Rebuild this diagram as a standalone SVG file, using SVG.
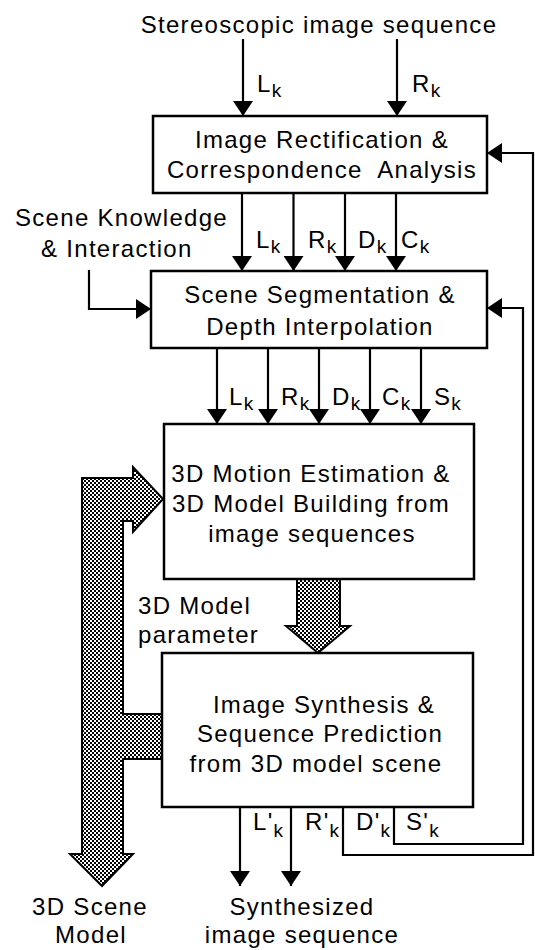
<svg xmlns="http://www.w3.org/2000/svg" width="535" height="950" viewBox="0 0 535 950">
<style>
text{font-family:"Liberation Sans",Arial,Helvetica,sans-serif;font-size:24px;letter-spacing:1.3px;fill:#000}
.c{text-anchor:middle}
.box{fill:#fff;stroke:#000;stroke-width:2.5}
.ln{fill:none;stroke:#000;stroke-width:2.2}
.big{fill:url(#dither);stroke:#000;stroke-width:2;stroke-linejoin:miter}
.sub{font-size:19px}
</style>
<defs>
<pattern id="dither" width="4" height="4" patternUnits="userSpaceOnUse">
<rect width="4" height="4" fill="#fff"/>
<rect width="2" height="2" fill="#000"/>
<rect x="2" y="2" width="2" height="2" fill="#000"/>
</pattern>
<marker id="ah" markerUnits="userSpaceOnUse" markerWidth="16" markerHeight="20" refX="15" refY="10" orient="auto">
<path d="M0,0 L15,10 L0,20 z" fill="#000"/>
</marker>
</defs>

<text class="c" x="319" y="33">Stereoscopic image sequence</text>

<g id="connectors">
<line class="ln" x1="243" y1="39" x2="243" y2="116" marker-end="url(#ah)"/>
<line class="ln" x1="397" y1="39" x2="397" y2="116" marker-end="url(#ah)"/>

<line class="ln" x1="242" y1="193" x2="242" y2="271" marker-end="url(#ah)"/>
<line class="ln" x1="293.5" y1="193" x2="293.5" y2="271" marker-end="url(#ah)"/>
<line class="ln" x1="345" y1="193" x2="345" y2="271" marker-end="url(#ah)"/>
<line class="ln" x1="396" y1="193" x2="396" y2="271" marker-end="url(#ah)"/>

<line class="ln" x1="217" y1="348" x2="217" y2="424" marker-end="url(#ah)"/>
<line class="ln" x1="268" y1="348" x2="268" y2="424" marker-end="url(#ah)"/>
<line class="ln" x1="319" y1="348" x2="319" y2="424" marker-end="url(#ah)"/>
<line class="ln" x1="370" y1="348" x2="370" y2="424" marker-end="url(#ah)"/>
<line class="ln" x1="421" y1="348" x2="421" y2="424" marker-end="url(#ah)"/>

<path class="ln" d="M89,270 V309 H151" marker-end="url(#ah)"/>
<path class="ln" d="M394,807 V844 H523 V308 H487" marker-end="url(#ah)"/>
<path class="ln" d="M343,807 V855 H533 V153 H487" marker-end="url(#ah)"/>

<line class="ln" x1="240" y1="807" x2="240" y2="886" marker-end="url(#ah)"/>
<line class="ln" x1="291" y1="807" x2="291" y2="886" marker-end="url(#ah)"/>

<path class="big" d="M82,854 H70 L102,886 L133,854 H123 V759 H162 V714 H123 V521 H133 V532 L163,499 L133,467 V478 H82 Z"/>
<path class="big" d="M297,579 V626 H286 L318,653 L350,626 H340 V579 Z"/>
</g>

<g id="labels">
<text x="257" y="92">L<tspan class="sub" dy="5">k</tspan></text>
<text x="412" y="92">R<tspan class="sub" dy="5">k</tspan></text>

<text x="256" y="248">L<tspan class="sub" dy="5">k</tspan></text>
<text x="308" y="248">R<tspan class="sub" dy="5">k</tspan></text>
<text x="358" y="248">D<tspan class="sub" dy="5">k</tspan></text>
<text x="401" y="248">C<tspan class="sub" dy="5">k</tspan></text>

<text x="229" y="405">L<tspan class="sub" dy="5">k</tspan></text>
<text x="281" y="405">R<tspan class="sub" dy="5">k</tspan></text>
<text x="332" y="405">D<tspan class="sub" dy="5">k</tspan></text>
<text x="382" y="405">C<tspan class="sub" dy="5">k</tspan></text>
<text x="434" y="405">S<tspan class="sub" dy="5">k</tspan></text>

<text x="253" y="830">L'<tspan class="sub" dy="7">k</tspan></text>
<text x="305" y="830">R'<tspan class="sub" dy="7">k</tspan></text>
<text x="356" y="830">D'<tspan class="sub" dy="7">k</tspan></text>
<text x="406" y="830">S'<tspan class="sub" dy="7">k</tspan></text>

<text x="15" y="226">Scene Knowledge</text>
<text x="41" y="257">&amp; Interaction</text>

<text x="138" y="614">3D Model</text>
<text x="138" y="643">parameter</text>

<text class="c" x="90" y="915">3D Scene</text>
<text class="c" x="91" y="943">Model</text>
<text class="c" x="302" y="915">Synthesized</text>
<text class="c" x="302" y="943">image sequence</text>
</g>

<g id="rectification">
<rect class="box" x="153" y="116" width="334" height="77"/>
<text class="c" x="322" y="148">Image Rectification &amp;</text>
<text class="c" x="322" y="178" xml:space="preserve" style="white-space:pre">Correspondence  Analysis</text>
</g>

<g id="segmentation">
<rect class="box" x="151" y="271" width="336" height="77"/>
<text class="c" x="320" y="303">Scene Segmentation &amp;</text>
<text class="c" x="320" y="335">Depth Interpolation</text>
</g>

<g id="motion">
<rect class="box" x="164" y="424" width="310" height="155"/>
<text class="c" x="311" y="482">3D Motion Estimation &amp;</text>
<text class="c" x="311" y="512">3D Model Building from</text>
<text class="c" x="312" y="542">image sequences</text>
</g>

<g id="synthesis">
<rect class="box" x="162" y="653" width="311" height="154"/>
<text class="c" x="324" y="713">Image Synthesis &amp;</text>
<text class="c" x="320" y="742">Sequence Prediction</text>
<text class="c" x="316" y="772">from 3D model scene</text>
</g>
</svg>
